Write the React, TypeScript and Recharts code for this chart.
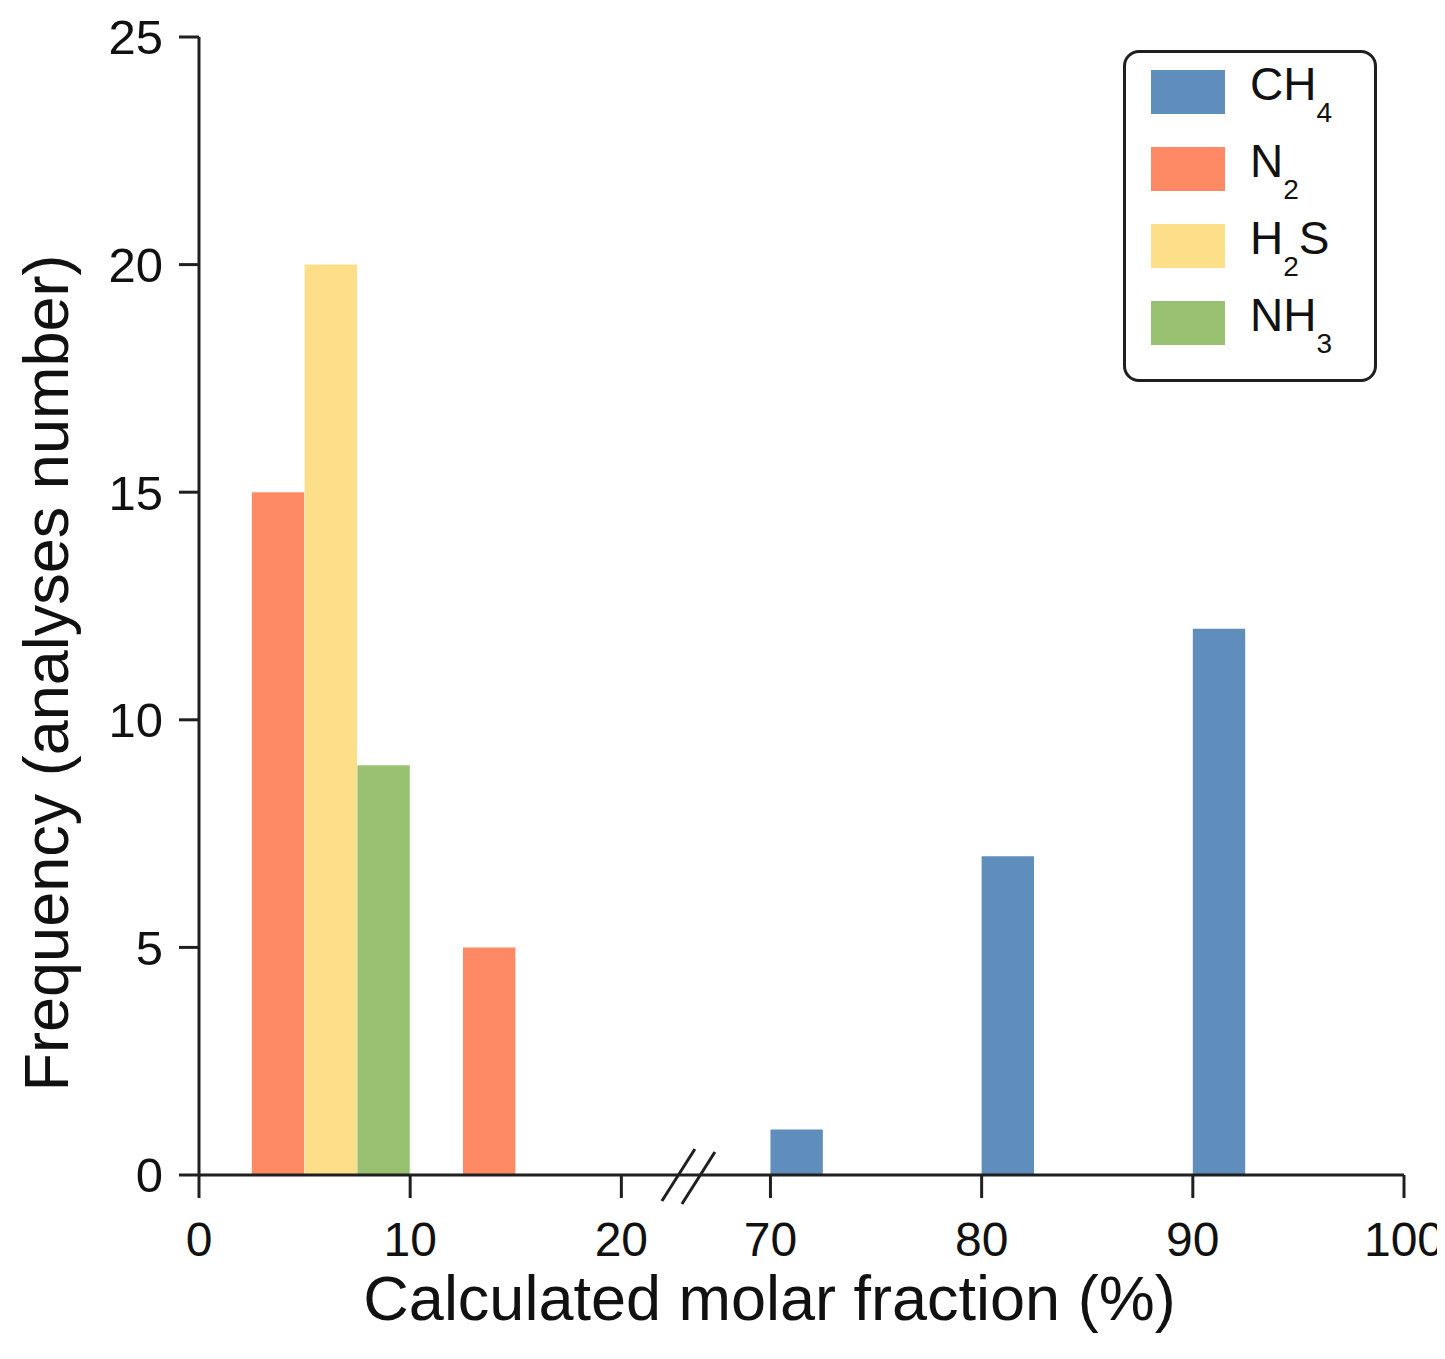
import React from 'react';
import { BarChart, Bar, XAxis, YAxis, Legend, ReferenceDot } from 'recharts';

// histogram bins are 2.5 % wide, each value is the left edge of its bin
const binWidth = 2.5;
const ch4Bins = [70, 80, 90];
const ch4Counts = [1, 7, 12];
const n2Bins = [2.5, 12.5];
const n2Counts = [15, 5];
const h2sBins = [5];
const h2sCounts = [20];
const nh3Bins = [7.5];
const nh3Counts = [9];

const xTickValues = [0, 10, 20, 70, 80, 90, 100];
const yTickValues = [0, 5, 10, 15, 20, 25];

const seriesOrder = ['ch4', 'n2', 'h2s', 'nh3'];
const colors: Record<string, string> = {
  ch4: '#5f8dbc',
  n2: '#fd8a65',
  h2s: '#fddf8a',
  nh3: '#98c272',
};

// legend text split as [before, subscript, after]
const legendParts: Record<string, [string, string, string]> = {
  ch4: ['CH', '4', ''],
  n2: ['N', '2', ''],
  h2s: ['H', '2', 'S'],
  nh3: ['NH', '3', ''],
};

// broken x axis: the empty 20-70 stretch is squeezed into a short gap
const breakFrom = 20;
const breakTo = 70;
const breakGap = 7.06;
const toAxis = (v: number) => (v <= breakFrom ? v : v - breakTo + breakFrom + breakGap);
const fromAxis = (p: number) => (p <= breakFrom ? p : p - breakFrom - breakGap + breakTo);

type Row = { pos: number; [key: string]: number };
const rows: Row[] = [];
const addSeries = (key: string, bins: number[], counts: number[]) =>
  bins.forEach((b, i) => rows.push({ pos: toAxis(b + binWidth / 2), [key]: counts[i] }));
addSeries('ch4', ch4Bins, ch4Counts);
addSeries('n2', n2Bins, n2Counts);
addSeries('h2s', h2sBins, h2sCounts);
addSeries('nh3', nh3Bins, nh3Counts);
rows.sort((a, b) => a.pos - b.pos);

// chart fills the whole window (body margin cancelled below)
const WIDTH = 1445;
const HEIGHT = 1359;
const MARGIN = { top: 37, right: 41, left: 0, bottom: 0 };
const Y_AXIS_W = 199;
const X_AXIS_H = 184;
const plotWidth = WIDTH - MARGIN.left - MARGIN.right - Y_AXIS_W;
const xMax = toAxis(100);
// a hair under the band so recharts doesn't shrink the bars
const barPx = (plotWidth / xMax) * binWidth - 0.4;

const axisColor = '#1f1f1f';
const font = '"Liberation Sans", Arial, sans-serif';

const BreakMark = (props: any) => {
  const { cx, cy } = props;
  return (
    <g stroke={axisColor} strokeWidth={3}>
      <line x1={cx - 34} y1={cy + 26} x2={cx - 1} y2={cy - 26} />
      <line x1={cx - 14} y1={cy + 29} x2={cx + 19} y2={cy - 23} />
    </g>
  );
};

const XTitle = (props: any) => {
  const { x, y, width } = props.viewBox;
  return (
    <text x={x + width / 2 - 32} y={y + 145} textAnchor="middle" fontSize={63} fill="#111" fontFamily={font}>
      Calculated molar fraction (%)
    </text>
  );
};

const YTitle = (props: any) => {
  const { y, height } = props.viewBox;
  const cy = y + height / 2 + 67;
  return (
    <text
      x={68}
      y={cy}
      textAnchor="middle"
      fontSize={63}
      fill="#111"
      fontFamily={font}
      transform={`rotate(-90, 68, ${cy})`}
    >
      Frequency (analyses number)
    </text>
  );
};

const GasLegend = (props: any) => {
  const { payload = [] } = props;
  const items = seriesOrder
    .map((k) => payload.find((p: any) => p.dataKey === k))
    .filter(Boolean);
  return (
    <div
      style={{
        width: 248,
        height: 326,
        border: `3px solid ${axisColor}`,
        borderRadius: 16,
        boxSizing: 'content-box',
        fontFamily: font,
        color: '#111',
      }}
    >
      {items.map((entry: any) => {
        const [pre, sub, post] = legendParts[entry.dataKey];
        return (
          <div key={entry.dataKey} style={{ display: 'flex', alignItems: 'center', height: 77 }}>
            <span style={{ display: 'inline-block', width: 74, height: 44, background: entry.color, marginLeft: 25 }} />
            <span style={{ marginLeft: 25, fontSize: 46, lineHeight: 1, position: 'relative', top: -8 }}>
              {pre}
              <span style={{ fontSize: 28, position: 'relative', top: 22 }}>{sub}</span>
              {post}
            </span>
          </div>
        );
      })}
    </div>
  );
};

const App: React.FC = () => {
  return (
    <div style={{ fontFamily: font, width: WIDTH, height: HEIGHT, margin: -8 }}>
      <BarChart width={WIDTH} height={HEIGHT} data={rows} margin={MARGIN} barGap={0}>
        <XAxis
          dataKey="pos"
          type="number"
          domain={[0, xMax]}
          ticks={xTickValues.map(toAxis)}
          interval={0}
          tickFormatter={(p: number) => String(Math.round(fromAxis(p)))}
          height={X_AXIS_H}
          tickSize={23}
          tickMargin={24}
          tick={{ fontSize: 48, fill: '#111', fontFamily: font }}
          axisLine={{ stroke: axisColor, strokeWidth: 3 }}
          tickLine={{ stroke: axisColor, strokeWidth: 3 }}
          label={<XTitle />}
        />
        <YAxis
          type="number"
          domain={[0, 25]}
          ticks={yTickValues}
          interval={0}
          width={Y_AXIS_W}
          tickSize={20}
          tickMargin={16}
          tick={{ fontSize: 49, fill: '#111', fontFamily: font }}
          axisLine={{ stroke: axisColor, strokeWidth: 3 }}
          tickLine={{ stroke: axisColor, strokeWidth: 3 }}
          label={<YTitle />}
        />
        <Legend
          layout="vertical"
          align="center"
          verticalAlign="middle"
          wrapperStyle={{ left: 1123, top: 50, width: 254 }}
          content={<GasLegend />}
        />
        {seriesOrder.map((key) => (
          <Bar
            key={key}
            dataKey={key}
            name={legendParts[key].join('')}
            stackId="gas"
            fill={colors[key]}
            barSize={barPx}
            isAnimationActive={false}
          />
        ))}
        <ReferenceDot
          x={breakFrom + breakGap / 2}
          y={0}
          ifOverflow="visible"
          shape={<BreakMark />}
        />
      </BarChart>
    </div>
  );
};

export default App;
